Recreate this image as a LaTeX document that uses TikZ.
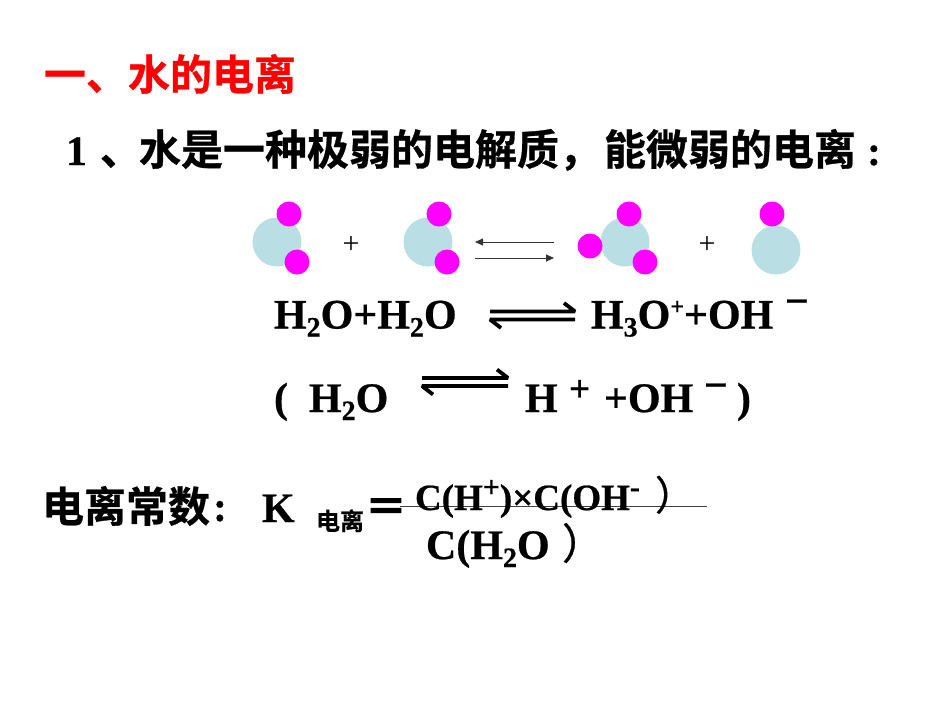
\documentclass[tikz,border=0pt]{standalone}
\usepackage{fontspec}
\setmainfont{Liberation Serif Bold}[FakeBold=0.6]
\newfontfamily\thinlat{Liberation Serif}
\newfontfamily\cjk{Noto Sans CJK SC Bold}[FakeBold=0.7]
\newfontfamily\cjkm{Noto Sans CJK SC}[FakeBold=0.8]
\newfontfamily\cjkx{Noto Sans CJK SC Bold}[FakeBold=2.2]
\newcommand{\rs}[1]{\fontsize{#1}{#1}\selectfont}
\usetikzlibrary{arrows.meta}
\definecolor{oxyc}{RGB}{185,223,228}
\definecolor{hydc}{RGB}{255,0,255}
\tikzset{
  txt/.style={anchor=base west,inner sep=0pt,outer sep=0pt},
  oxy/.style={fill=oxyc,draw=none},
  hyd/.style={fill=hydc,draw=none},
  thinarrow/.style={-{Stealth[length=8pt,width=7pt,inset=0pt]},line width=0.9pt,black!80},
  eqline/.style={line width=3.8pt,black,line cap=butt,line join=bevel}
}
\begin{document}
\begin{tikzpicture}[x=1pt,y=-1pt]
\useasboundingbox (0,0) rectangle (950,713);
% headings
\node[txt,text=red] (title) at (44,90) {\cjk\rs{42}一、水的电离};
\node[txt] (one) at (66,165) {\rs{42}1};
\node[txt] (dun) at (100,165) {\cjk\rs{42}、};
\node[txt] (line) at (139,165) {\cjk\rs{42}水是一种极弱的电解质，};
\node[txt] (line2) at (604,165) {\cjk\rs{42}能微弱的电离};
\node[txt] (colon) at (867,165) {\rs{42}:};
% molecules
\fill[oxy] (277,242) circle (24.5);
\fill[hyd] (289,214) circle (12.5);
\fill[hyd] (297,262) circle (12.5);
\node[anchor=center,inner sep=0pt] (p1) at (351,245) {\thinlat\rs{30}+};
\fill[oxy] (428,242) circle (24.5);
\fill[hyd] (439,214) circle (12.5);
\fill[hyd] (447,262) circle (12.5);
\coordinate (ta) at (554,242);\coordinate (tb) at (475,242);
\coordinate (ba) at (475,258);\coordinate (bb) at (554,258);
\draw[thinarrow] (ta) -- (tb);
\draw[thinarrow] (ba) -- (bb);
\fill[oxy] (625,242) circle (24.5);
\fill[hyd] (629,214) circle (12.5);
\fill[hyd] (645,262) circle (12.5);
\fill[hyd] (590,246) circle (12.5);
\node[anchor=center,inner sep=0pt] (p2) at (707,245) {\thinlat\rs{30}+};
\fill[oxy] (776,250) circle (24.5);
\fill[hyd] (772,214) circle (12.5);
% equation 1
\node[txt] (e1l) at (274,328.5) {\rs{42}H\raisebox{-8pt}{\rs{28}2}O+H\raisebox{-8pt}{\rs{28}2}O};
\coordinate (e1a) at (490,311.5);\coordinate (e1b) at (575,311.5);\coordinate (e1c) at (564,303);
\coordinate (e1d) at (575,319.5);\coordinate (e1e) at (490,319.5);\coordinate (e1f) at (501,328);
\draw[eqline] (e1a) -- (e1b) -- (e1c);
\draw[eqline] (e1d) -- (e1e) -- (e1f);
\node[txt] (e1r) at (591,328.5) {\rs{42}H\raisebox{-8pt}{\rs{28}3}O\raisebox{14pt}{\rs{24}+}+OH};
\node[txt] (e1m) at (785,315) {\rs{42}−};
% equation 2
\node[txt] (e2l) at (274,412) {\rs{42}(};
\node[txt] (e2h) at (309,412) {\rs{42}H\raisebox{-8pt}{\rs{28}2}O};
\coordinate (e2a) at (422,378);\coordinate (e2b) at (508,378);\coordinate (e2c0) at (497,369.5);
\coordinate (e2d) at (508,386);\coordinate (e2e) at (422,386);\coordinate (e2f) at (433,394.5);
\draw[eqline] (e2a) -- (e2b) -- (e2c0);
\draw[eqline] (e2d) -- (e2e) -- (e2f);
\node[txt] (e2r) at (525,412) {\rs{42}H};
\node[txt] (e2p) at (569,401) {\rs{37}+};
\node[txt] (e2o) at (604,412) {\rs{42}+OH};
\node[txt] (e2m) at (704,399) {\rs{42}−};
\node[txt] (e2c) at (737,412) {\rs{42})};
% constant
\node[txt] (k1) at (42,522) {\cjk\rs{42}电离常数};
\node[txt] (k1c) at (214,521) {\cjk\rs{36}:};
\node[txt] (k) at (262,522) {\rs{42}K};
\node[txt] (k2) at (316,530) {\cjk\rs{24}电离};
\node[txt] (eq) at (365,522) {\cjkx\rs{42}＝};
\coordinate (fa) at (400,506);\coordinate (fb) at (707,506);
\draw[line width=0.6pt,black!75] (fa) -- (fb);
\node[txt] (num) at (415,510) {\rs{37}C(H\raisebox{13pt}{\rs{30}+})×C(OH\raisebox{13pt}{\rs{30}-}};
\node[txt] (numc) at (655,510) {\cjkm\rs{40}）};
\node[txt] (den) at (426,559) {\rs{42}C(H\raisebox{-8pt}{\rs{28}2}O};
\node[txt] (denc) at (562,559) {\cjkm\rs{42}）};
\end{tikzpicture}
\end{document}
